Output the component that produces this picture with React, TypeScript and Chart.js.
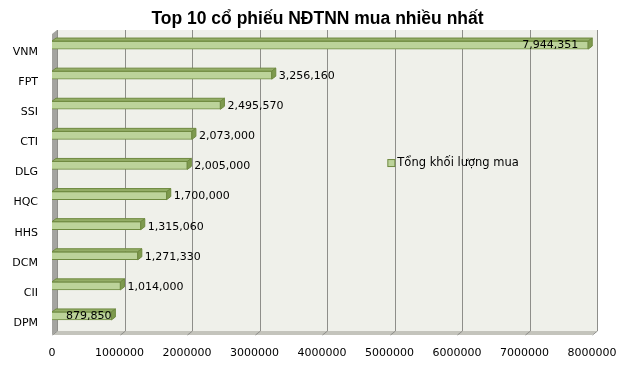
import React, { useEffect, useRef } from "react";
import { Chart, registerables } from "chart.js";

Chart.register(...registerables);

const TITLE = "Top 10 cổ phiếu NĐTNN mua nhiều nhất";
const SERIES_NAME = "Tổng khối lượng mua";
const categories = ["VNM", "FPT", "SSI", "CTI", "DLG", "HQC", "HHS", "DCM", "CII", "DPM"];
const values = [7944351, 3256160, 2495570, 2073000, 2005000, 1700000, 1315060, 1271330, 1014000, 879850];
const X_MIN = 0;
const X_MAX = 8000000;
const X_STEP = 1000000;

const FONT = "'DejaVu Sans', Verdana, sans-serif";

const WALL_DX = 5;
const WALL_DY = 4;
const BAR_DX = 4;
const BAR_DY = 3;

const fmt = (v: number) => v.toLocaleString("en-US");

const excel3d = {
  id: "excel3d",
  beforeDatasetsDraw(chart: any) {
    const { ctx, chartArea: ca, scales } = chart;
    const xs = scales.x;
    const backL = ca.left + WALL_DX;
    const backR = ca.right + WALL_DX;
    const backT = ca.top;
    const backB = ca.bottom;
    ctx.save();
    ctx.fillStyle = "#eff0ea";
    ctx.fillRect(backL, backT, backR - backL, backB - backT);
    ctx.fillStyle = "#c4c4bc";
    ctx.beginPath();
    ctx.moveTo(backL, backB);
    ctx.lineTo(backR, backB);
    ctx.lineTo(backR - WALL_DX, backB + WALL_DY);
    ctx.lineTo(backL - WALL_DX, backB + WALL_DY);
    ctx.closePath();
    ctx.fill();
    ctx.fillStyle = "#a4a4a0";
    ctx.beginPath();
    ctx.moveTo(backL, backT);
    ctx.lineTo(backL, backB);
    ctx.lineTo(backL - WALL_DX, backB + WALL_DY);
    ctx.lineTo(backL - WALL_DX, backT + WALL_DY);
    ctx.closePath();
    ctx.fill();
    ctx.strokeStyle = "#8e8e8a";
    ctx.lineWidth = 1;
    for (let v = X_MIN; v <= X_MAX; v += X_STEP) {
      const px = Math.round(xs.getPixelForValue(v)) + WALL_DX + 0.5;
      ctx.beginPath();
      ctx.moveTo(px, backT);
      ctx.lineTo(px, backB);
      ctx.lineTo(px - WALL_DX, backB + WALL_DY);
      ctx.stroke();
    }
    ctx.restore();
  },
  afterDatasetsDraw(chart: any) {
    const { ctx } = chart;
    const meta = chart.getDatasetMeta(0);
    const data = chart.data.datasets[0].data as number[];
    const maxV = Math.max(...data);
    ctx.save();
    meta.data.forEach((bar: any, i: number) => {
      const { x, y, base, height } = bar.getProps(["x", "y", "base", "height"], true);
      const top = y - height / 2;
      const bottom = y + height / 2;
      ctx.fillStyle = "#93ad66";
      ctx.strokeStyle = "#6f8a40";
      ctx.lineWidth = 1;
      ctx.beginPath();
      ctx.moveTo(base, top);
      ctx.lineTo(base + BAR_DX, top - BAR_DY);
      ctx.lineTo(x + BAR_DX, top - BAR_DY);
      ctx.lineTo(x, top);
      ctx.closePath();
      ctx.fill();
      ctx.stroke();
      ctx.fillStyle = "#7e9a4e";
      ctx.beginPath();
      ctx.moveTo(x, top);
      ctx.lineTo(x + BAR_DX, top - BAR_DY);
      ctx.lineTo(x + BAR_DX, bottom - BAR_DY);
      ctx.lineTo(x, bottom);
      ctx.closePath();
      ctx.fill();
      ctx.stroke();
      const v = data[i];
      const text = fmt(v);
      ctx.font = `11px ${FONT}`;
      ctx.fillStyle = "#000";
      ctx.textBaseline = "middle";
      if (v > maxV * 0.9) {
        ctx.textAlign = "right";
        ctx.fillText(text, x - 10, y);
      } else if (i === data.length - 1) {
        ctx.textAlign = "right";
        ctx.fillText(text, x, y);
      } else {
        ctx.textAlign = "left";
        ctx.fillText(text, x + BAR_DX + 3, y + 1);
      }
    });
    ctx.restore();
  },
  afterDraw(chart: any) {
    const { ctx, chartArea: ca } = chart;
    const ds = chart.data.datasets[0];
    const lx = ca.left + (ca.right - ca.left) * 0.621;
    const ly = ca.top + (ca.bottom - ca.top) * 0.442;
    ctx.save();
    ctx.fillStyle = ds.backgroundColor;
    ctx.strokeStyle = "#6f8a40";
    ctx.lineWidth = 1;
    ctx.fillRect(lx + 0.5, ly - 3.5, 7, 7);
    ctx.strokeRect(lx + 0.5, ly - 3.5, 7, 7);
    ctx.font = `11.5px ${FONT}`;
    ctx.fillStyle = "#000";
    ctx.textAlign = "left";
    ctx.textBaseline = "middle";
    ctx.fillText(ds.label, lx + 10, ly);
    ctx.restore();
  },
};

export default function App() {
  const ref = useRef<HTMLCanvasElement | null>(null);
  useEffect(() => {
    if (!ref.current) return;
    const chart = new Chart(ref.current, {
      type: "bar",
      data: {
        labels: categories,
        datasets: [
          {
            label: SERIES_NAME,
            data: values,
            backgroundColor: "#bcd39a",
            borderColor: "#6f8a40",
            borderWidth: 1,
            barThickness: 8,
          },
        ],
      },
      options: {
        indexAxis: "y",
        animation: false,
        responsive: false,
        layout: { padding: { left: 6, right: 0, top: 0, bottom: 17 } },
        plugins: {
          legend: { display: false },
          tooltip: { enabled: false },
          title: {
            display: true,
            text: TITLE,
            color: "#000",
            font: { family: "'Liberation Sans', Arial, sans-serif", size: 17.5, weight: "bold" },
            padding: { top: 9, bottom: 0 },
          },
        },
        scales: {
          x: {
            type: "linear",
            min: X_MIN,
            max: X_MAX,
            afterFit: (s: any) => {
              s.height = 29;
              s.paddingRight = 37;
            },
            ticks: {
              stepSize: X_STEP,
              padding: 16,
              color: "#000",
              font: { family: FONT, size: 11 },
              callback: (v: any) => String(v),
              maxRotation: 0,
              autoSkip: false,
            },
            grid: { display: false, drawTicks: false },
            border: { display: false },
          },
          y: {
            type: "category",
            afterFit: (s: any) => {
              s.width = 46;
            },
            ticks: {
              padding: 14,
              labelOffset: 7,
              color: "#000",
              font: { family: FONT, size: 11 },
            },
            grid: { display: false, drawTicks: false },
            border: { display: false },
          },
        },
      },
      plugins: [excel3d],
    } as any);
    return () => chart.destroy();
  }, []);
  return (
    <div style={{ position: "absolute", left: 0, top: 0, width: 629, height: 377, background: "#fff" }}>
      <canvas ref={ref} width={629} height={377} style={{ display: "block" }} />
    </div>
  );
}
